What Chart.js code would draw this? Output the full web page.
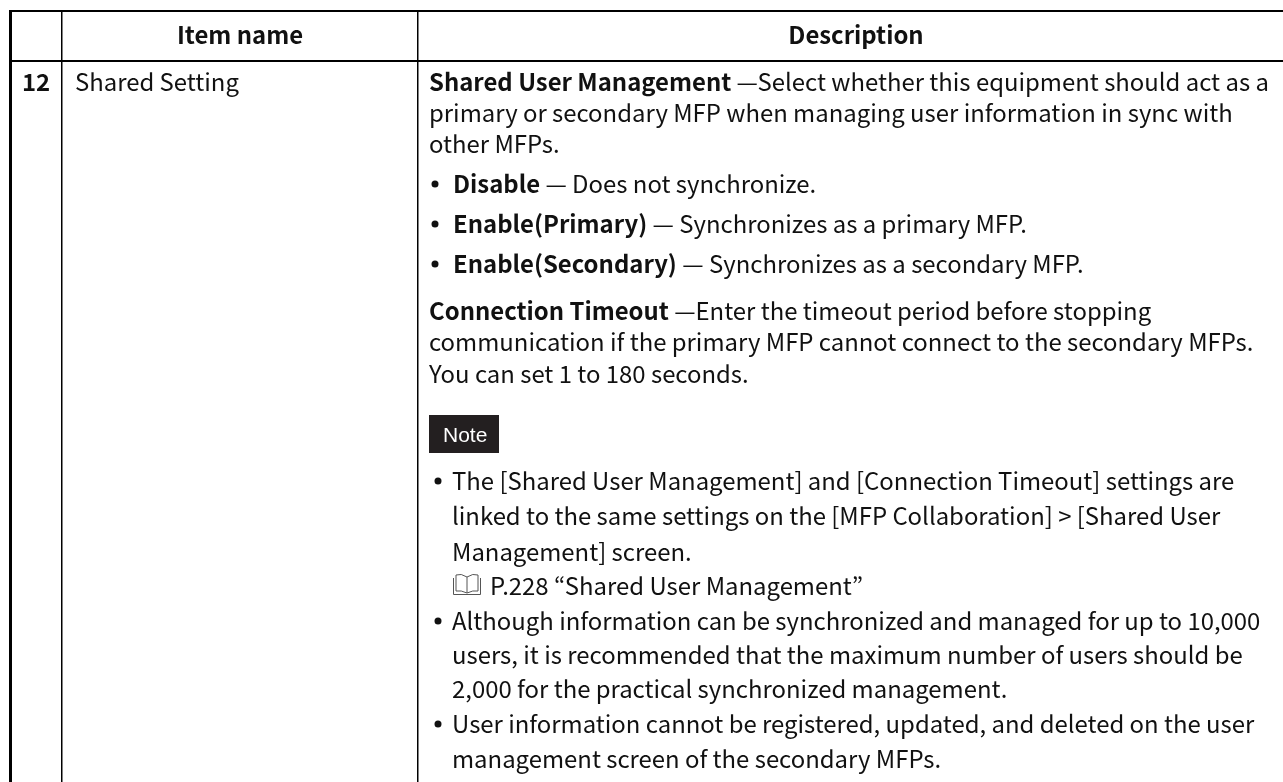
<!DOCTYPE html>
<html>
<head>
<meta charset="utf-8">
<title>Shared Setting</title>
<script src="https://cdn.jsdelivr.net/npm/chart.js@4"></script>
<style>
html, body { margin: 0; padding: 0; background: #fff; }
canvas { display: block; }
</style>
</head>
<body>
<canvas id="tabla" width="1283" height="782"></canvas>
<script>
// Contenido de la tabla
const encabezados = ["Item name", "Description"];
const numeroFila = "12";
const nombreItem = "Shared Setting";
const etiquetaNota = "Note";

const parrafoUno = [
    "**Shared User Management** —Select whether this equipment should act as a",
    "primary or secondary MFP when managing user information in sync with",
    "other MFPs."
];
const opciones = [
    "**Disable** — Does not synchronize.",
    "**Enable(Primary)** — Synchronizes as a primary MFP.",
    "**Enable(Secondary)** — Synchronizes as a secondary MFP."
];
const parrafoDos = [
    "**Connection Timeout** —Enter the timeout period before stopping",
    "communication if the primary MFP cannot connect to the secondary MFPs.",
    "You can set 1 to 180 seconds."
];
const notas = [
    "The [Shared User Management] and [Connection Timeout] settings are",
    "linked to the same settings on the [MFP Collaboration] > [Shared User",
    "Management] screen.",
    "P.228 “Shared User Management”",
    "Although information can be synchronized and managed for up to 10,000",
    "users, it is recommended that the maximum number of users should be",
    "2,000 for the practical synchronized management.",
    "User information cannot be registered, updated, and deleted on the user",
    "management screen of the secondary MFPs."
];

// Bordes de columnas y filas, en unidades de los ejes
const bordesX = [10.5, 62, 418];
const bordesY = [11, 61];

const FUENTE = '"Noto Sans CJK JP", "Noto Sans", sans-serif';
const TAM = 23.9;

function linea(ctx, texto, x, y) {
    // **negrita** y normal en la misma linea
    const partes = texto.split("**");
    partes.forEach((parte, i) => {
        ctx.font = (i % 2 ? "bold " : "") + TAM + "px " + FUENTE;
        ctx.fillText(parte, x, y);
        x += ctx.measureText(parte).width;
    });
}

function libro(ctx, x, y) {
    ctx.strokeStyle = "#555";
    ctx.lineWidth = 1;
    ctx.beginPath();
    ctx.moveTo(x + 14, y + 4);
    ctx.quadraticCurveTo(x + 8, y, x + 3, y + 2);
    ctx.lineTo(x + 3, y + 18);
    ctx.quadraticCurveTo(x + 8, y + 17, x + 14, y + 20);
    ctx.quadraticCurveTo(x + 20, y + 17, x + 25, y + 18);
    ctx.lineTo(x + 25, y + 2);
    ctx.quadraticCurveTo(x + 20, y, x + 14, y + 4);
    ctx.lineTo(x + 14, y + 20);
    ctx.moveTo(x + 0.5, y + 5);
    ctx.lineTo(x + 0.5, y + 21.5);
    ctx.lineTo(x + 27.5, y + 21.5);
    ctx.lineTo(x + 27.5, y + 5);
    ctx.stroke();
}

const textoTabla = {
    id: "textoTabla",
    afterDraw(chart) {
        const ctx = chart.ctx;
        const sx = chart.scales.x;
        const sy = chart.scales.y;
        const px = v => sx.getPixelForValue(v);
        const py = v => sy.getPixelForValue(v);

        ctx.save();
        ctx.fillStyle = "#111";
        ctx.textBaseline = "alphabetic";

        // Encabezado
        ctx.textAlign = "center";
        ctx.font = "bold " + TAM + "px " + FUENTE;
        ctx.fillText(encabezados[0], px(240), py(44));
        ctx.fillText(encabezados[1], px(856), py(44));
        ctx.textAlign = "left";

        // Primera y segunda columna
        ctx.font = "bold " + TAM + "px " + FUENTE;
        ctx.fillText(numeroFila, px(22), py(91));
        ctx.font = TAM + "px " + FUENTE;
        ctx.fillText(nombreItem, px(75), py(91));

        [91, 122, 153].forEach((y, i) => linea(ctx, parrafoUno[i], px(429), py(y)));

        [193, 233, 273].forEach((y, i) => {
            ctx.beginPath();
            ctx.arc(px(435), py(y - 9), 3.5, 0, Math.PI * 2);
            ctx.fill();
            linea(ctx, opciones[i], px(453), py(y));
        });

        [320, 351, 383].forEach((y, i) => linea(ctx, parrafoDos[i], px(429), py(y)));

        // Etiqueta Note
        ctx.fillStyle = "#231f20";
        ctx.fillRect(px(429), py(415), 70, 38);
        ctx.fillStyle = "#fff";
        ctx.font = "21px 'Liberation Sans', Arial, sans-serif";
        ctx.fillText(etiquetaNota, px(443), py(442));

        // Notas
        ctx.fillStyle = "#111";
        const filasNota = [490, 525, 561, 595, 630, 664, 698, 733, 768];
        const conVineta = [true, false, false, false, true, false, false, true, false];
        filasNota.forEach((y, i) => {
            if (conVineta[i]) {
                ctx.beginPath();
                ctx.arc(px(438), py(y - 9), 3.5, 0, Math.PI * 2);
                ctx.fill();
            }
            linea(ctx, notas[i], px(i === 3 ? 490 : 452), py(y));
        });
        libro(ctx, px(453), py(573));

        ctx.restore();
    }
};

new Chart(document.getElementById("tabla"), {
    type: "scatter",
    data: { datasets: [] },
    plugins: [textoTabla],
    options: {
        responsive: false,
        animation: false,
        layout: { padding: { left: 9, top: 10 } },
        plugins: { legend: { display: false }, tooltip: { enabled: false } },
        scales: {
            x: {
                type: "linear",
                min: 9,
                max: 1283,
                afterBuildTicks(eje) { eje.ticks = bordesX.map(v => ({ value: v })); },
                border: { display: false },
                ticks: { display: false },
                grid: {
                    color: "#000",
                    drawTicks: false,
                    lineWidth: c => (c.index === 0 ? 3 : 1.5)
                }
            },
            y: {
                type: "linear",
                reverse: true,
                min: 10,
                max: 782,
                afterBuildTicks(eje) { eje.ticks = bordesY.map(v => ({ value: v })); },
                border: { display: false },
                ticks: { display: false },
                grid: {
                    color: "#000",
                    drawTicks: false,
                    lineWidth: 2
                }
            }
        }
    }
});
</script>
</body>
</html>
